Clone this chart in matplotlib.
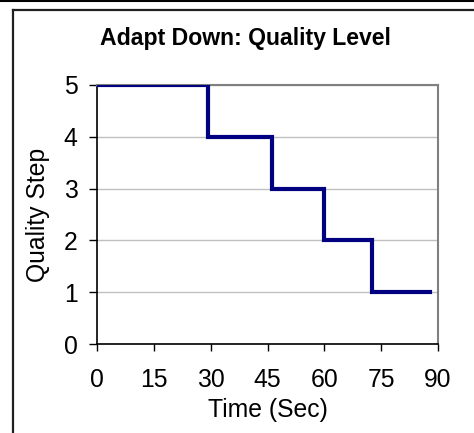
import matplotlib
matplotlib.use("Agg")
import matplotlib.pyplot as plt
from matplotlib.lines import Line2D

plt.rcParams['font.family'] = ['Liberation Sans', 'DejaVu Sans']

# Quality level over time: each level holds until the next switch time
switch_times = [0, 29.4, 46.3, 60.0, 72.7, 87.8]
quality_levels = [5, 4, 3, 2, 1, 1]
x_ticks = [0, 15, 30, 45, 60, 75, 90]
y_ticks = [0, 1, 2, 3, 4, 5]

fig = plt.figure(figsize=(4.74, 4.33), dpi=100)
ax = fig.add_axes([97 / 474, 1 - 344 / 433, (438 - 97) / 474, (344 - 85) / 433])

ax.step(switch_times, quality_levels, where='post', color='#000080',
        linewidth=3.0, solid_joinstyle='miter', zorder=3)

ax.set_xlim(0, 90)
ax.set_ylim(0, 5)
ax.set_xticks(x_ticks)
ax.set_yticks(y_ticks)
ax.set_xticklabels([str(t) for t in x_ticks])
ax.set_yticklabels([str(t) for t in y_ticks])

ax.grid(axis='y', color='#c0c0c0', linewidth=1.0)
ax.set_axisbelow(True)

for side in ('left', 'bottom'):
    ax.spines[side].set_color('black')
    ax.spines[side].set_linewidth(1.2)
for side in ('top', 'right'):
    ax.spines[side].set_color('#808080')
    ax.spines[side].set_linewidth(1.5)

ax.tick_params(axis='y', direction='out', length=6, width=1, pad=8,
               labelsize=17.8, colors='black')
ax.tick_params(axis='x', direction='out', length=5, width=1, pad=12,
               labelsize=17.8, colors='black')

ax.set_xlabel('Time (Sec)', fontsize=17.8, labelpad=4.5)
ax.set_ylabel('Quality Step', fontsize=17.8, labelpad=10)

fig.text(0.517, 1 - 45 / 433, 'Adapt Down: Quality Level', ha='center',
         va='baseline', fontsize=16.6, fontweight='bold')

# Outer frame lines
fig.add_artist(Line2D([0, 1], [1 - 0.5 / 433, 1 - 0.5 / 433], color='black',
                      linewidth=1.5, transform=fig.transFigure))
fig.add_artist(Line2D([12.5 / 474, 1], [1 - 10 / 433, 1 - 10 / 433],
                      color='#202020', linewidth=1.6, transform=fig.transFigure))
fig.add_artist(Line2D([12.5 / 474, 12.5 / 474], [0, 1 - 10 / 433],
                      color='#202020', linewidth=1.6, transform=fig.transFigure))

fig.savefig('out.png', dpi=100)
